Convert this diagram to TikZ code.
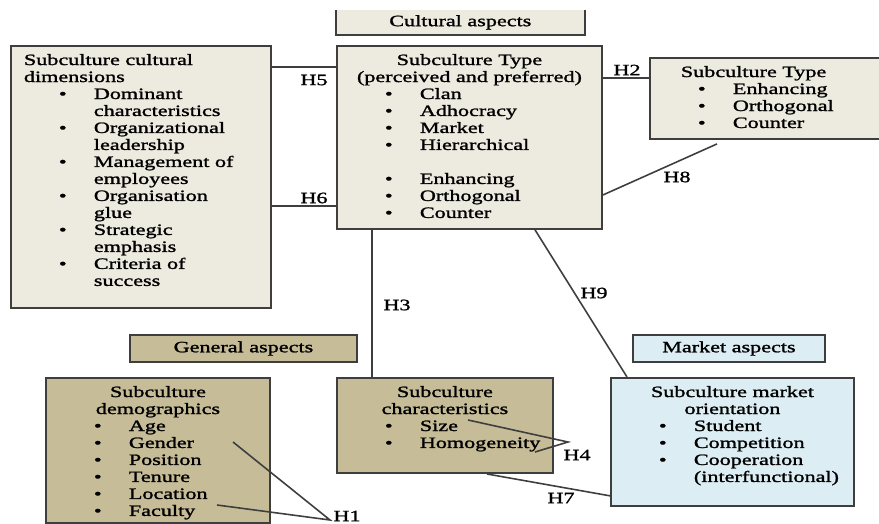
\documentclass[tikz,border=0pt]{standalone}
\usepackage{fontspec}
\setmainfont{Liberation Serif}[FakeStretch=1.4,FakeBold=1.4]
\usepackage{tikz}
\usetikzlibrary{calc}
\usepackage{color}

\definecolor{paleculture}{HTML}{EDEAE0}
\definecolor{tangeneral}{HTML}{C6BC98}
\definecolor{palemarket}{HTML}{DCEDF3}
\definecolor{edgegray}{HTML}{3E3E3E}

% bullet line of a box, second line hangs under the text
\newcommand\bitem[1]{\par\hangindent=39.8pt\hangafter=1\noindent\hspace*{19.9pt}\makebox[19.9pt][l]{\textbullet}#1}
% width, height, content
\newcommand\boxbody[3]{\parbox[c][#2][t]{#1}{\raggedright\vspace*{4.6pt}#3}}

\tikzset{
  panel/.style={draw=edgegray, line width=1.1pt, anchor=north west,
    inner xsep=7.4pt, inner ysep=0pt},
  tag/.style={draw=edgegray, line width=1.1pt, anchor=north west, inner sep=0pt},
  link/.style={draw=edgegray, line width=0.9pt},
  hyp/.style={inner sep=0pt}
}

\begin{document}
\begin{tikzpicture}[x=0.02cm,y=-0.02cm,font=\fontsize{9pt}{9.67pt}\selectfont]
  \useasboundingbox (0,0) rectangle (879,524);

  % headings
  \node (culture) at (336,10) [anchor=north west, fill=paleculture, inner sep=0pt,
     minimum width=4.96cm, minimum height=0.48cm] {Cultural aspects};
  \draw[edgegray, line width=1.1pt] (culture.north west) -- (culture.south west)
     -- (culture.south east) -- (culture.north east);
  \node (general) at (129,334) [tag, fill=tangeneral, minimum width=4.54cm,
     minimum height=0.54cm] {General aspects};
  \node (market) at (632,334) [tag, fill=palemarket, minimum width=3.84cm,
     minimum height=0.54cm] {Market aspects};

  % boxes
  \node (dims) at (10,45) [panel, fill=paleculture] {\boxbody{133.2pt}{149.1pt}{%
     Subculture cultural\\dimensions
     \bitem{Dominant\newline characteristics}
     \bitem{Organizational\newline leadership}
     \bitem{Management of\newline employees}
     \bitem{Organisation\newline glue}
     \bitem{Strategic\newline emphasis}
     \bitem{Criteria of\newline success}}};
  \node (ptype) at (336,45) [panel, fill=paleculture] {\boxbody{136pt}{104.1pt}{%
     {\centering Subculture Type\\(perceived and preferred)\par}
     \bitem{Clan}
     \bitem{Adhocracy}
     \bitem{Market}
     \bitem{Hierarchical}
     \par\mbox{}
     \bitem{Enhancing}
     \bitem{Orthogonal}
     \bitem{Counter}}};
  \node (stype) at (649,57) [panel, fill=paleculture] {\boxbody{118.9pt}{46.1pt}{%
     \hspace*{10.2pt}Subculture Type
     \bitem{Enhancing}
     \bitem{Orthogonal}
     \bitem{Counter}}};
  \node (demog) at (45,377) [panel, fill=tangeneral] {\boxbody{112.7pt}{82.5pt}{%
     {\centering Subculture\\demographics\par}
     \bitem{Age}
     \bitem{Gender}
     \bitem{Position}
     \bitem{Tenure}
     \bitem{Location}
     \bitem{Faculty}}};
  \node (chars) at (336,377) [panel, fill=tangeneral] {\boxbody{108.1pt}{54.1pt}{%
     {\centering Subculture\\characteristics\par}
     \bitem{Size}
     \bitem{Homogeneity}}};
  \node (morient) at (610,377) [panel, fill=palemarket] {\boxbody{123.5pt}{72.8pt}{%
     {\centering Subculture market\\orientation\par}
     \bitem{Student}
     \bitem{Competition}
     \bitem{Cooperation\newline (interfunctional)}}};

  % hypotheses
  \coordinate (h5a) at ($(dims.north east)+(0,22)$);
  \coordinate (h6a) at ($(dims.north east)+(0,161)$);
  \coordinate (h2a) at ($(ptype.north east)+(0,33)$);
  \coordinate (h4tip) at (568,442);
  \coordinate (h1tip) at (330,520);
  \draw[link] (h5a) -- (h5a -| ptype.west);
  \draw[link] (h6a) -- (h6a -| ptype.west);
  \draw[link] (h2a) -- (h2a -| stype.west);
  \draw[link] ($(stype.south west)+(68,4)$) -- ($(ptype.north east)+(0,150)$);
  \draw[link] ($(ptype.south west)+(36,0)$) -- ($(chars.north west)+(36,0)$);
  \draw[link] ($(ptype.south west)+(199,0)$) -- ($(morient.north west)+(17,0)$);
  \draw[link] ($(chars.north west)+(132,43)$) -- (h4tip)
     -- ($(chars.north west)+(199,75)$);
  \draw[link] ($(chars.south west)+(151,0)$) -- ($(morient.south west)+(0,-11)$);
  \draw[link] ($(demog.north west)+(188,65)$) -- (h1tip)
     -- ($(demog.north west)+(172,128)$);

  \node (H5) at (314,80) [hyp] {H5};
  \node (H6) at (314,198) [hyp] {H6};
  \node (H2) at (627,70) [hyp] {H2};
  \node (H8) at (677,177) [hyp] {H8};
  \node (H3) at (397,305) [hyp] {H3};
  \node (H9) at (594,293) [hyp] {H9};
  \node (H4) at (577,455) [hyp] {H4};
  \node (H7) at (561,498) [hyp] {H7};
  \node (H1) at (347,516) [hyp] {H1};
\end{tikzpicture}
\end{document}
